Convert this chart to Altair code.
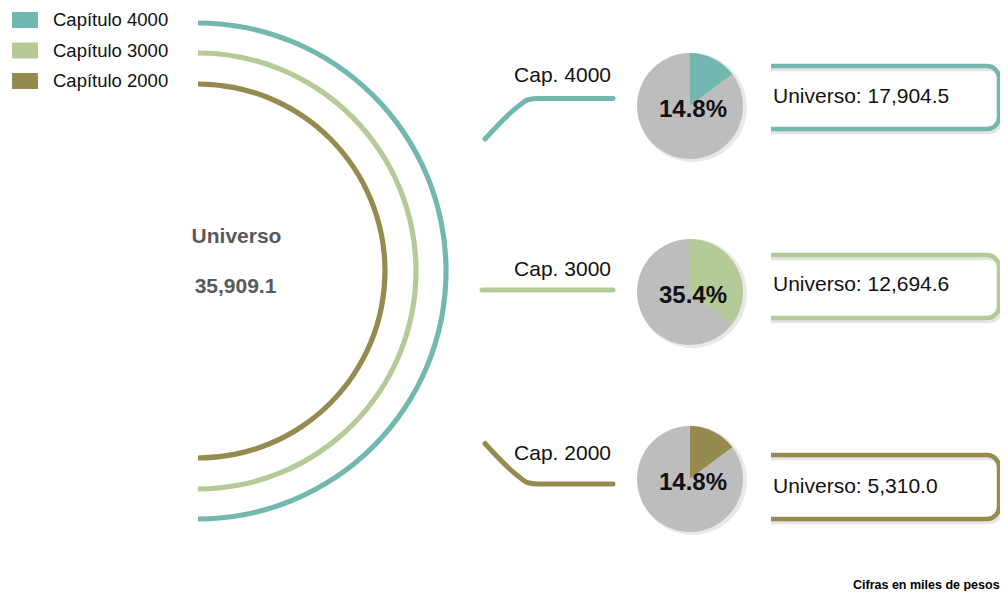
import math
import altair as alt
import pandas as pd

# ---------------- data ----------------
categorias = ["Capítulo 4000", "Capítulo 3000", "Capítulo 2000"]
etiquetas = ["Cap. 4000", "Cap. 3000", "Cap. 2000"]
universos = [17904.5, 12694.6, 5310.0]
porcentajes = [14.8, 35.4, 14.8]
universo_total = 35909.1
titulo_total = "Universo"
nota = "Cifras en miles de pesos"
resto = "Resto"

# ---------------- styles ----------------
colores = ["#73b8b0", "#b4ca97", "#968b4f"]
gris = "#bdbdbd"
FONT = "Liberation Sans"

# ---------------- layout (page pixel space) ----------------
X0, X1, Y0, Y1 = 8, 1000, 8, 591
W, H = X1 - X0, Y1 - Y0

xs = alt.Scale(domain=[X0, X1], nice=False, zero=False)
ys = alt.Scale(domain=[Y0, Y1], nice=False, zero=False, reverse=True)
cs = alt.Scale(domain=categorias + [resto], range=colores + [gris])
color = alt.Color("cat:N", scale=cs, legend=None)


def X(f="x"):
    return alt.X(f"{f}:Q", scale=xs, axis=None)


def Y(f="y"):
    return alt.Y(f"{f}:Q", scale=ys, axis=None)


layers = []

# ---- legend ----
leg_y = [20, 50.5, 81]
leg = pd.DataFrame({"cat": categorias, "y": leg_y})
leg["x"], leg["x2"], leg["tx"] = 12, 38, 53
leg["ya"], leg["yb"] = leg["y"] - 8, leg["y"] + 8
layers.append(alt.Chart(leg).mark_rect(cornerRadius=1).encode(
    x=X("x"), x2="x2", y=Y("ya"), y2="yb", color=color))
layers.append(alt.Chart(leg).mark_text(
    align="left", baseline="middle", font=FONT, fontSize=18.5, color="#111111"
).encode(x=X("tx"), y=Y("y"), text="cat:N"))

# ---- concentric semicircles ----
arc_cx, arc_cy = 198, 271
arc_r = [248, 218, 187]
for c, r in zip(categorias, arc_r):
    d = pd.DataFrame({"cat": [c], "x": [arc_cx], "y": [arc_cy]})
    layers.append(alt.Chart(d).mark_arc(
        theta=0, theta2=math.pi, radius=r + 2.6, radius2=r - 2.6
    ).encode(x=X(), y=Y(), color=color))

# ---- total text ----
tot = pd.DataFrame({"t": [titulo_total, f"{universo_total:,.1f}"],
                    "x": [236.5, 235.5], "y": [237, 287]})
layers.append(alt.Chart(tot).mark_text(
    align="center", baseline="middle", font=FONT, fontSize=21,
    fontWeight="bold", color="#595959"
).encode(x=X(), y=Y(), text="t:N"))

# ---- connectors ----
anchor_y = [98.5, 290, 484]
sentido = [1, 0, -1]
rows = []
for c, ya, s in zip(categorias, anchor_y, sentido):
    if s == 0:
        pts = [(482, ya), (613, ya)]
    else:
        pts = [(485, ya + 40.5 * s), (518, ya + 8 * s), (528, ya + 1.2 * s),
               (538, ya), (613, ya)]
    for k, (px, py) in enumerate(pts):
        rows.append({"cat": c, "x": px, "y": py, "k": k})
con = pd.DataFrame(rows)
layers.append(alt.Chart(con).mark_line(
    strokeWidth=5, strokeCap="round", strokeJoin="round", interpolate="monotone"
).encode(x=X(), y=Y(), color=color, order=alt.Order("k:Q")))

lab = pd.DataFrame({"t": etiquetas, "x": 611, "y": [76, 270, 454]})
layers.append(alt.Chart(lab).mark_text(
    align="right", baseline="middle", font=FONT, fontSize=21, color="#111111"
).encode(x=X(), y=Y(), text="t:N"))

# ---- brackets ----
br_top = [66, 255, 455]
br_bot = [129, 318, 519]
br = pd.DataFrame({"cat": categorias, "ya": br_top, "yb": br_bot})
br["xa"], br["xb"] = 752, 999
br["sxa"], br["sxb"] = br["xa"] + 2, br["xb"] + 2
br["sya"], br["syb"] = br["ya"] + 3, br["yb"] + 3
br["cxa"], br["cxb"] = 745, 771
br["cya"], br["cyb"] = br["ya"] - 8, br["yb"] + 8
layers.append(alt.Chart(br).mark_rect(
    filled=False, cornerRadius=12, strokeWidth=4.5, stroke="#000000", strokeOpacity=0.10
).encode(x=X("sxa"), x2="sxb", y=Y("sya"), y2="syb"))
layers.append(alt.Chart(br).mark_rect(
    filled=False, cornerRadius=12, strokeWidth=4.5
).encode(x=X("xa"), x2="xb", y=Y("ya"), y2="yb", color=color))
layers.append(alt.Chart(br).mark_rect(color="white").encode(
    x=X("cxa"), x2="cxb", y=Y("cya"), y2="cyb"))

uni = pd.DataFrame({"t": [f"Universo: {v:,.1f}" for v in universos],
                    "x": 773, "y": [97, 285, 487]})
layers.append(alt.Chart(uni).mark_text(
    align="left", baseline="middle", font=FONT, fontSize=21, color="#111111"
).encode(x=X(), y=Y(), text="t:N"))

# ---- pies ----
pie_cx = 690
pie_cy = [106, 292, 479]
pie_r = 53
for c, p, cy in zip(categorias, porcentajes, pie_cy):
    sh = pd.DataFrame({"x": [pie_cx + 2.5], "y": [cy + 1.5]})
    layers.append(alt.Chart(sh).mark_arc(
        theta=0, theta2=2 * math.pi, radius=pie_r + 1.5, color="#000000", opacity=0.09
    ).encode(x=X(), y=Y()))
    d = pd.DataFrame({"cat": [c, resto], "val": [p, 100 - p], "ord": [0, 1],
                      "x": pie_cx, "y": cy})
    layers.append(alt.Chart(d).mark_arc(radius=pie_r).encode(
        theta=alt.Theta("val:Q", stack=True),
        color=color, order=alt.Order("ord:Q"), x=X(), y=Y()))

pct = pd.DataFrame({"t": [f"{p:.1f}%" for p in porcentajes],
                    "x": pie_cx + 3, "y": [c + 4 for c in pie_cy]})
layers.append(alt.Chart(pct).mark_text(
    align="center", baseline="middle", font=FONT, fontSize=24,
    fontWeight="bold", color="#111111"
).encode(x=X(), y=Y(), text="t:N"))

# ---- footnote ----
fn = pd.DataFrame({"t": [nota], "x": [853], "y": [585]})
layers.append(alt.Chart(fn).mark_text(
    align="left", baseline="middle", font=FONT, fontSize=12.5,
    fontWeight="bold", color="#000000"
).encode(x=X(), y=Y(), text="t:N"))

chart = alt.layer(*layers).properties(
    width=W, height=H, padding=0,
    autosize=alt.AutoSizeParams(type="none"),
).configure_view(stroke=None)

chart.save("out.html", embed_options={"renderer": "svg", "actions": False})
